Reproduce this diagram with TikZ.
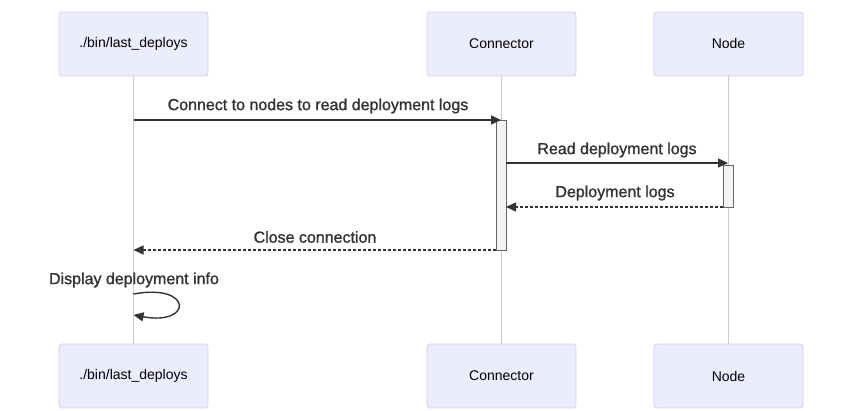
\documentclass[tikz,border=0pt]{standalone}
\usepackage{fontspec}
\setmainfont{Liberation Sans}
\newfontfamily\msgfont[FakeBold=1.3]{Liberation Sans}
\usetikzlibrary{arrows.meta}
\definecolor{actorfill}{HTML}{ECECFF}
\definecolor{actorline}{HTML}{D3CCF2}
\definecolor{lifeline}{HTML}{CCCCCC}
\definecolor{ink}{HTML}{333333}
\definecolor{actfill}{HTML}{F4F4F4}
\definecolor{actline}{HTML}{666666}
\tikzset{
  actorbox/.style={draw=actorline, fill=actorfill, line width=0.8pt, rounded corners=3pt,
    minimum width=149pt, minimum height=64pt, inner sep=0pt,
    font=\fontsize{14}{16}\selectfont, text=black},
  life/.style={draw=lifeline, line width=0.8pt},
  actbar/.style={draw=actline, fill=actfill, line width=0.6pt},
  msg/.style={draw=ink, line width=1.4pt, -{Triangle[length=10pt,width=9pt]}},
  reply/.style={msg, dash pattern=on 3pt off 2pt},
  msglabel/.style={font=\msgfont\fontsize{16}{19}\selectfont, text=ink, inner sep=0pt}
}
\begin{document}
\begin{tikzpicture}[x=1pt,y=-1pt]
\useasboundingbox (0,0) rectangle (860,411);
% participants, top and bottom
\node[actorbox] (a1) at (133.5,44) {./bin/last\_deploys};
\node[actorbox] (c1) at (501.5,44) {Connector};
\node[actorbox] (n1) at (728.5,44) {Node};
\node[actorbox] (a2) at (133.5,376) {./bin/last\_deploys};
\node[actorbox] (c2) at (501.5,376) {Connector};
\node[actorbox] (n2) at (728.5,376) {Node};
% lifelines
\draw[life] (a1.south) -- (a2.north);
\draw[life] (c1.south) -- (c2.north);
\draw[life] (n1.south) -- (n2.north);
% activation bars
\draw[actbar] (496,120) rectangle (506,250);
\draw[actbar] (723,165) rectangle (733,207);
\coordinate (m1s) at (133.5,120);
\coordinate (m1e) at (501,120);
\coordinate (m2s) at (506,163);
\coordinate (m2e) at (728,163);
\coordinate (m3s) at (723,207);
\coordinate (m3e) at (506,207);
\coordinate (m4s) at (496,250);
\coordinate (m4e) at (133.5,250);
\coordinate (l1) at (133.5,294);
\coordinate (l2) at (133.5,315);
% messages
\draw[msg] (m1s) -- (m1e);
\node[msglabel] (t1) at (318,106) {Connect to nodes to read deployment logs};
\draw[msg] (m2s) -- (m2e);
\node[msglabel] (t2) at (617,150) {Read deployment logs};
\draw[reply] (m3s) -- (m3e);
\node[msglabel] (t3) at (615,193) {Deployment logs};
\draw[reply] (m4s) -- (m4e);
\node[msglabel] (t4) at (315,237) {Close connection};
\node[msglabel] (t5) at (134,280) {Display deployment info};
\draw[msg] (l1) .. controls (193,283) and (193,326) .. (l2);
\end{tikzpicture}
\end{document}
